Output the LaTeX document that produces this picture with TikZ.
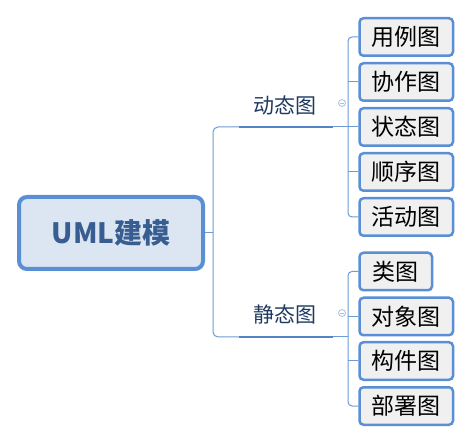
\documentclass[tikz,border=0pt]{standalone}
\usepackage{fontspec}
\setmainfont{Noto Sans CJK SC}
\definecolor{boxline}{HTML}{5A8ED5}
\definecolor{boxfill}{HTML}{F0F0F0}
\definecolor{rootfill}{HTML}{DCE6F2}
\definecolor{roottext}{HTML}{375D91}
\definecolor{connc}{HTML}{6C9BD5}
\definecolor{underc}{HTML}{5185C6}
\definecolor{labc}{HTML}{1F3A60}
\definecolor{colc}{HTML}{AABDE2}
\tikzset{
  rootbox/.style={draw=boxline, fill=rootfill, line width=4pt, rounded corners=8pt,
    minimum width=184pt, minimum height=72pt, inner sep=0pt,
    font=\fontsize{28}{30}\selectfont\bfseries, text=roottext},
  leafbox/.style={draw=boxline, fill=boxfill, line width=2.5pt, rounded corners=4pt,
    minimum width=93.5pt, minimum height=37.5pt, inner sep=0pt,
    font=\fontsize{23}{25}\selectfont, text=black},
  smallleaf/.style={leafbox, minimum width=72.5pt},
  branchlab/.style={font=\fontsize{21}{23}\selectfont, text=labc, inner sep=0pt},
  conn/.style={draw=connc, line width=1pt},
  under/.style={draw=underc, line width=2pt},
  collapse/.style={circle, draw=colc, line width=0.8pt, minimum size=7pt, inner sep=0pt},
  collapseline/.style={draw=colc, line width=0.8pt}
}
\begin{document}
\begin{tikzpicture}[x=1pt,y=-1pt]
\useasboundingbox (0,0) rectangle (471,443);
% root
\node[rootbox] (root) at (111,233) {UML建模};
\coordinate (j) at (213,233);
\coordinate (dynL) at (239,127);
\coordinate (dynR) at (333,127);
\coordinate (dynJ) at (348,127);
\coordinate (staL) at (239,337);
\coordinate (staR) at (333,337);
\coordinate (staJ) at (348,337);
% branch labels
\node[branchlab] (dyn) at (285,105) {动态图};
\node[branchlab] (sta) at (285,314) {静态图};
% collapse markers
\node[collapse] (dc) at (342,103) {};
\node[collapse] (sc) at (342,313) {};
\draw[collapseline] ([xshift=-2pt]dc.center) -- ([xshift=2pt]dc.center);
\draw[collapseline] ([xshift=-2pt]sc.center) -- ([xshift=2pt]sc.center);
% leaves
\node[leafbox, anchor=west] (c1) at (358.25,37) {用例图};
\node[leafbox, anchor=west] (c2) at (358.25,82) {协作图};
\node[leafbox, anchor=west] (c3) at (358.25,127) {状态图};
\node[leafbox, anchor=west] (c4) at (358.25,172) {顺序图};
\node[leafbox, anchor=west] (c5) at (358.25,217) {活动图};
\node[smallleaf, anchor=west] (c6) at (358.25,271.5) {类图};
\node[leafbox, anchor=west] (c7) at (358.25,316.5) {对象图};
\node[leafbox, anchor=west] (c8) at (358.25,361) {构件图};
\node[leafbox, anchor=west] (c9) at (358.25,406) {部署图};
% connectors
\draw[conn] (root.east) -- (j);
\draw[conn, rounded corners=5pt] (dynL) -| (j) |- (staL);
\draw[under] (dynL) -- (dynR);
\draw[under] (staL) -- (staR);
\draw[conn] (dynR) -- (dynJ);
\draw[conn] (staR) -- (staJ);
\draw[conn, rounded corners=4pt] (c1.west) -| (dynJ) |- (c5.west);
\draw[conn] (c2.west) -- (c2.west -| dynJ);
\draw[conn] (c3.west) -- (dynJ);
\draw[conn] (c4.west) -- (c4.west -| dynJ);
\draw[conn, rounded corners=4pt] (c6.west) -| (staJ) |- (c9.west);
\draw[conn] (c7.west) -- (c7.west -| staJ);
\draw[conn] (c8.west) -- (c8.west -| staJ);
\end{tikzpicture}
\end{document}
